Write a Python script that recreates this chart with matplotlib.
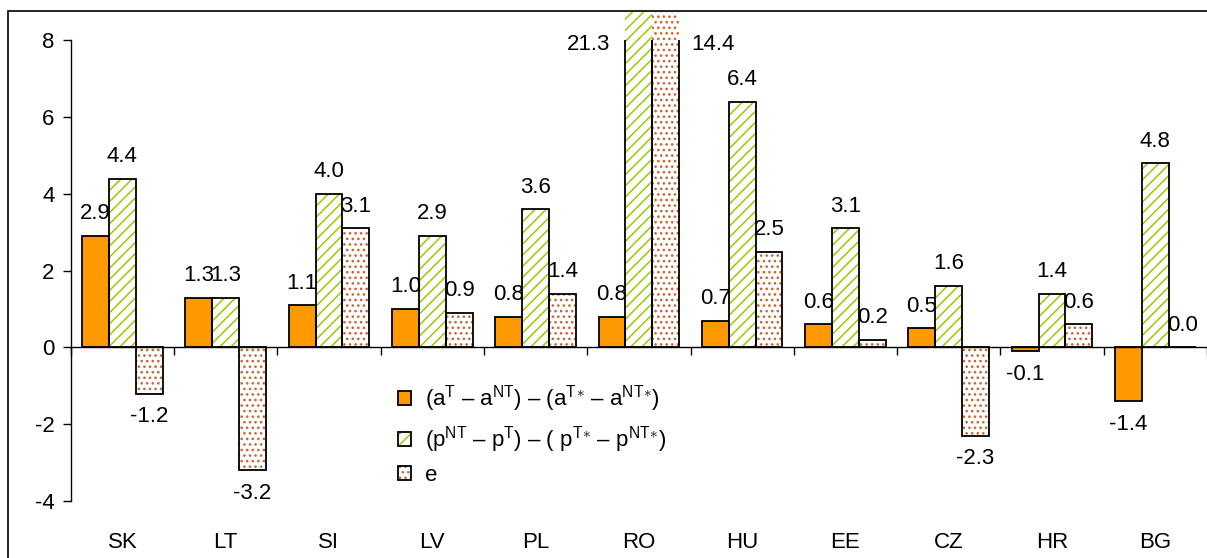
import matplotlib
matplotlib.use("Agg")
import matplotlib.pyplot as plt
from matplotlib.patches import Rectangle

plt.rcParams["font.family"] = ["Liberation Sans", "DejaVu Sans"]
plt.rcParams["mathtext.fontset"] = "custom"
plt.rcParams["mathtext.rm"] = "Liberation Sans"
plt.rcParams["mathtext.it"] = "Liberation Sans"
plt.rcParams["axes.unicode_minus"] = False
plt.rcParams["hatch.linewidth"] = 1.1

countries = ["SK", "LT", "SI", "LV", "PL", "RO", "HU", "EE", "CZ", "HR", "BG"]
productivity = [2.9, 1.3, 1.1, 1.0, 0.8, 0.8, 0.7, 0.6, 0.5, -0.1, -1.4]
prices = [4.4, 1.3, 4.0, 2.9, 3.6, 21.3, 6.4, 3.1, 1.6, 1.4, 4.8]
exchange = [-1.2, -3.2, 3.1, 0.9, 1.4, 14.4, 2.5, 0.2, -2.3, 0.6, 0.0]

labels = [
    r"(a$^{\rm T}$ – a$^{\rm NT}$) – (a$^{\rm T}$$^{\ast}$ – a$^{\rm NT}$$^{\ast}$)",
    r"(p$^{\rm NT}$ – p$^{\rm T}$) – ( p$^{\rm T}$$^{\ast}$ – p$^{\rm NT}$$^{\ast}$)",
    "e",
]

FS = 16
W = 0.26
YMAX = 8  # axis scale top, bars above it get cut

fig = plt.figure(figsize=(12.07, 5.58), dpi=100)
ax = fig.add_axes([70.7 / 1207, 57 / 558, 1136.3 / 1207, 489 / 558])
ax.set_xlim(-0.5, len(countries) - 0.5)
ax.set_ylim(-4, 8.74)

# outer frame of the chart
fig.patches.append(Rectangle((8 / 1207, -0.1), 1.2, 1.1 - 11 / 558,
                             transform=fig.transFigure, fill=False,
                             edgecolor="black", linewidth=1.2))

clip = Rectangle((-0.5, -4), len(countries), 4 + YMAX, transform=ax.transData)

series = [
    (productivity, "#FF9900", None, None),
    (prices, "white", "///", "#99CC00"),
    (exchange, "white", "...", "#CC6633"),
]

x = range(len(countries))
handles = []
for i, (vals, face, hatch, hcolor) in enumerate(series):
    pos = [k + (i - 1) * W for k in x]
    if hatch:
        fill = ax.bar(pos, vals, W, color="white", edgecolor=hcolor,
                      hatch=hatch, linewidth=0, zorder=2)
        outline = ax.bar(pos, vals, W, facecolor="none", edgecolor="black",
                         linewidth=1.3, zorder=3)
        handles.append((fill[0], outline[0]))
    else:
        outline = ax.bar(pos, vals, W, facecolor=face, edgecolor="black",
                         linewidth=1.3, zorder=3)
        handles.append(outline[0])
    for p in outline:
        p.set_clip_path(clip)

    for xp, v in zip(pos, vals):
        txt = f"{v:.1f}"
        if v > YMAX:
            # value labels for the cut bars sit beside them
            if i == 1:
                ax.annotate(txt, (xp - W / 2, YMAX), xytext=(-11, -3),
                            textcoords="offset points", ha="right",
                            va="center", fontsize=FS, zorder=5)
            else:
                ax.annotate(txt, (xp + W / 2, YMAX), xytext=(9, -3),
                            textcoords="offset points", ha="left",
                            va="center", fontsize=FS, zorder=5)
            continue
        dy = 16 if v >= 0 else -16.5
        ax.annotate(txt, (xp, v), xytext=(0, dy), textcoords="offset points",
                    ha="center", va="center", fontsize=FS, zorder=5)

# axes styling
for s in ["top", "right"]:
    ax.spines[s].set_visible(False)
ax.spines["left"].set_bounds(-4, YMAX)
ax.spines["left"].set_linewidth(1.0)
ax.spines["bottom"].set_position(("data", 0))
ax.spines["bottom"].set_linewidth(1.0)
ax.spines["bottom"].set_zorder(4)
ax.set_yticks(range(-4, YMAX + 1, 2))
ax.tick_params(axis="y", direction="out", length=5.5, width=1, pad=6,
               labelsize=FS)
ax.set_xticks([k + 0.5 for k in range(-1, len(countries))])
ax.set_xticklabels([])
ax.tick_params(axis="x", direction="out", length=5.5, width=1)

# category names along the bottom
sec = ax.secondary_xaxis("bottom")
sec.spines["bottom"].set_visible(False)
sec.set_xticks(list(x))
sec.set_xticklabels(countries, fontsize=FS)
sec.tick_params(length=0, pad=22.5)

leg = ax.legend(handles, labels, loc="upper left",
                bbox_to_anchor=(0.288, 0.241), borderaxespad=0,
                frameon=False, fontsize=FS, handlelength=0.6,
                handleheight=0.6, handletextpad=0.6, labelspacing=0.45,
                borderpad=0)

fig.savefig("out.png", dpi=100)
